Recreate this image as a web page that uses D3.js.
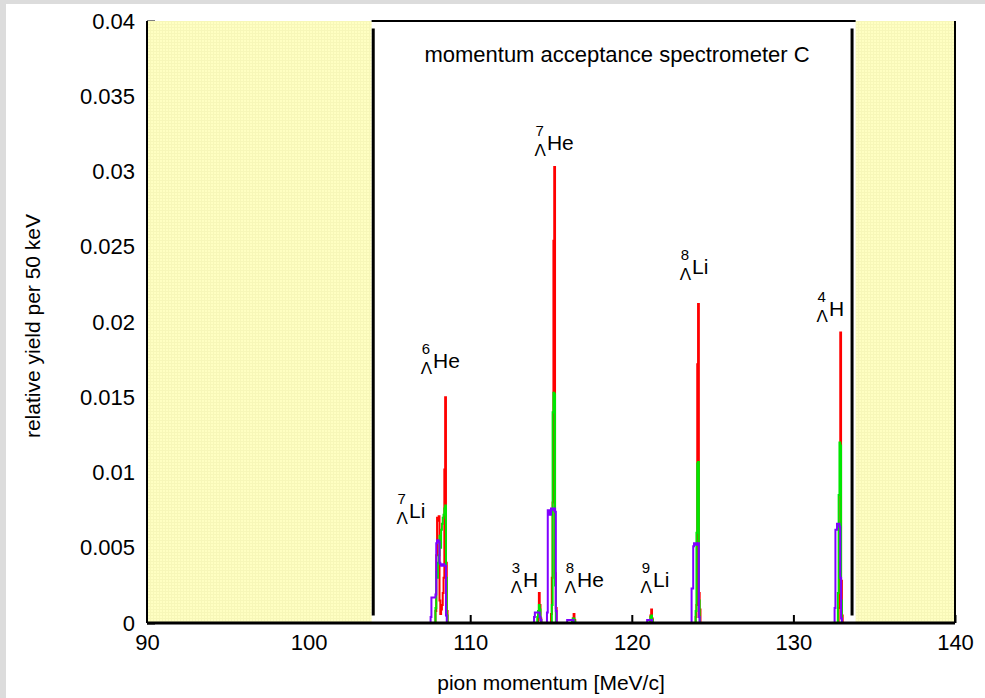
<!DOCTYPE html>
<html>
<head>
<meta charset="utf-8">
<script src="https://cdn.jsdelivr.net/npm/d3@7"></script>
<style>
  body { margin: 0; background: #dcdcdc; }
  svg { display: block; font-family: "Liberation Sans", Arial, sans-serif; }
</style>
</head>
<body>
<svg width="985" height="698"></svg>
<script>
// histogram bins: [bin start (MeV/c), relative yield per 50 keV]
var binWidth = 0.05;

var redBins = [
  [107.85,0.0008],[107.9,0.0045],[107.95,0.0070],[108.0,0.0068],[108.05,0.0071],[108.1,0.0015],
  [108.15,0.0006],[108.2,0.0009],[108.25,0.0012],[108.3,0.0020],[108.35,0.0030],[108.4,0.0102],
  [108.45,0.0150],[108.5,0.0040],[108.55,0.0008],
  [114.2,0.0008],[114.25,0.0020],[114.3,0.0012],[114.35,0.0003],
  [115.0,0.0006],[115.05,0.0030],[115.1,0.0080],[115.15,0.0254],[115.2,0.0303],[115.25,0.0033],[115.3,0.0010],
  [116.35,0.0003],[116.4,0.0006],[116.45,0.0002],
  [121.15,0.0005],[121.2,0.0009],[121.25,0.0003],
  [123.95,0.0004],[124.0,0.0012],[124.05,0.0172],[124.1,0.0212],[124.15,0.0020],[124.2,0.0009],
  [132.8,0.0010],[132.85,0.0040],[132.9,0.0193],[132.95,0.0028],[133.0,0.0005]
];

var greenBins = [
  [107.85,0.0010],[107.9,0.0034],[107.95,0.0030],[108.0,0.0040],[108.05,0.0045],[108.1,0.0058],
  [108.15,0.0050],[108.2,0.0062],[108.25,0.0066],[108.3,0.0070],[108.35,0.0072],[108.4,0.0076],
  [108.45,0.0078],[108.5,0.0030],[108.55,0.0005],
  [114.15,0.0004],[114.2,0.0008],[114.25,0.0012],[114.3,0.0009],[114.35,0.0002],
  [115.05,0.0012],[115.1,0.0140],[115.15,0.0153],[115.2,0.0152],[115.25,0.0025],
  [116.3,0.0002],[116.35,0.0003],[116.4,0.0003],[116.45,0.0001],
  [121.1,0.0002],[121.15,0.0004],[121.2,0.0005],[121.25,0.0002],
  [123.95,0.0008],[124.0,0.0060],[124.05,0.0106],[124.1,0.0107],[124.15,0.0015],
  [132.75,0.0020],[132.8,0.0085],[132.85,0.0120],[132.9,0.0118],[132.95,0.0015]
];

var purpleBins = [
  [107.55,0.0004],[107.6,0.0017],[107.65,0.0017],[107.7,0.0017],[107.75,0.0017],[107.8,0.0017],
  [107.85,0.0019],[107.9,0.0053],[107.95,0.0055],[108.0,0.0055],[108.05,0.0054],[108.1,0.0040],
  [108.15,0.0039],[108.2,0.0038],[108.25,0.0039],[108.3,0.0038],[108.35,0.0039],[108.4,0.0038],
  [108.45,0.0038],[108.5,0.0005],
  [113.95,0.0004],[114.0,0.0007],[114.05,0.0007],[114.1,0.0007],[114.15,0.0007],[114.2,0.0007],
  [114.25,0.0007],[114.3,0.0004],[114.35,0.0002],
  [114.75,0.0007],[114.8,0.0075],[114.85,0.0075],[114.9,0.0072],[114.95,0.0072],[115.0,0.0076],
  [115.05,0.0076],[115.1,0.0076],[115.15,0.0075],[115.2,0.0076],[115.25,0.0074],[115.3,0.0008],
  [116.0,0.0002],[116.05,0.0002],[116.1,0.0002],[116.15,0.0002],[116.2,0.0002],[116.25,0.0002],
  [116.3,0.0002],[116.35,0.0002],
  [120.95,0.0002],[121.0,0.0002],[121.05,0.0002],[121.1,0.0002],[121.15,0.0002],[121.2,0.0002],
  [123.7,0.0023],[123.75,0.0023],[123.8,0.0051],[123.85,0.0053],[123.9,0.0052],[123.95,0.0053],
  [124.0,0.0053],[124.05,0.0052],[124.1,0.0053],[124.15,0.0004],
  [132.55,0.0010],[132.6,0.0062],[132.65,0.0062],[132.7,0.0066],[132.75,0.0066],[132.8,0.0066],
  [132.85,0.0064],[132.9,0.0030],[132.95,0.0003]
];

var seriesColors = ["#ff0000", "#00e600", "#8000ff"];

// hypernucleus labels: mass number, element, element text start (MeV/c), baseline (yield)
var labelMass = ["7", "6", "3", "7", "8", "9", "8", "4"];
var labelElem = ["Li", "He", "H", "He", "He", "Li", "Li", "H"];
var labelP    = [106.21, 107.70, 113.27, 114.75, 116.61, 121.31, 123.73, 132.20];
var labelY    = [0.00698, 0.01694, 0.00239, 0.03143, 0.00239, 0.00239, 0.02319, 0.0204];

var xTicks = [90, 100, 110, 120, 130, 140];
var yTicks = [0, 0.005, 0.01, 0.015, 0.02, 0.025, 0.03, 0.035, 0.04];

// spectrometer acceptance edges and the shaded (outside) regions
var acceptance = [104.0, 133.63];
var outside = [[90, 103.9], [133.85, 140]];

var svg = d3.select("svg"),
    width = +svg.attr("width"),
    height = +svg.attr("height");

var x = d3.scaleLinear().domain([90, 140]).range([147, 955]);
var y = d3.scaleLinear().domain([0, 0.04]).range([623, 21]);

svg.append("rect").attr("x", 6).attr("y", 4).attr("width", width - 6).attr("height", height - 4).attr("fill", "#fff");

// fine grid pattern for the yellow regions
var defs = svg.append("defs");
var pat = defs.append("pattern").attr("id", "yel").attr("width", 3).attr("height", 3)
  .attr("patternUnits", "userSpaceOnUse");
pat.append("rect").attr("width", 3).attr("height", 3).attr("fill", "#ffffc2");
pat.append("path").attr("d", "M0,0.5H3M0.5,0V3").attr("stroke", "#f7f7b8").attr("stroke-width", 1);

// histogram outlines
function stepPoints(bins) {
  var groups = [], cur = [];
  bins.forEach(function(b) {
    if (cur.length && Math.abs(b[0] - cur[cur.length - 1][0] - binWidth) > 1e-6) {
      groups.push(cur); cur = [];
    }
    cur.push(b);
  });
  if (cur.length) groups.push(cur);
  return groups.map(function(g) {
    var pts = [[g[0][0], 0]];
    g.forEach(function(b) {
      pts.push([b[0], b[1]]);
      pts.push([b[0] + binWidth, b[1]]);
    });
    pts.push([g[g.length - 1][0] + binWidth, 0]);
    return pts;
  });
}

var line = d3.line().x(function(d) { return x(d[0]); }).y(function(d) { return y(d[1]); });

var gHist = svg.append("g");
[redBins, greenBins, purpleBins].forEach(function(bins, i) {
  gHist.selectAll(null)
    .data(stepPoints(bins))
    .enter().append("path")
    .attr("d", line)
    .attr("fill", "none")
    .attr("stroke", seriesColors[i])
    .attr("stroke-width", 2)
    .attr("stroke-linejoin", "miter");
});

// axes with inward ticks
var xAxis = svg.append("g").attr("transform", "translate(0," + y(0) + ")")
  .call(d3.axisBottom(x).tickValues(xTicks).tickSizeInner(-8).tickSizeOuter(0).tickPadding(11));
var yAxis = svg.append("g").attr("transform", "translate(" + x(90) + ",0)")
  .call(d3.axisLeft(y).tickValues(yTicks).tickSizeInner(-8).tickSizeOuter(0).tickPadding(12)
    .tickFormat(d3.format("~g")));
[xAxis, yAxis].forEach(function(a) {
  a.select(".domain").remove();
  a.selectAll(".tick line").attr("stroke", "#000").attr("stroke-width", 2);
  a.selectAll(".tick text").attr("font-size", 22).attr("fill", "#000")
    .attr("font-family", "'Liberation Sans', Arial, sans-serif");
});

// yellow regions outside acceptance
svg.selectAll(".outside")
  .data(outside).enter().append("rect")
  .attr("x", function(d) { return x(d[0]); })
  .attr("y", y(0.04))
  .attr("width", function(d) { return x(d[1]) - x(d[0]); })
  .attr("height", y(0) - y(0.04) - 1)
  .attr("fill", "url(#yel)");

// frame
svg.append("line").attr("x1", x(90)).attr("x2", x(140)).attr("y1", y(0)).attr("y2", y(0))
  .attr("stroke", "#000").attr("stroke-width", 3);
svg.append("line").attr("x1", x(90)).attr("x2", x(90)).attr("y1", y(0.04)).attr("y2", y(0))
  .attr("stroke", "#000").attr("stroke-width", 2);
svg.append("line").attr("x1", x(140)).attr("x2", x(140)).attr("y1", y(0.04)).attr("y2", y(0))
  .attr("stroke", "#000").attr("stroke-width", 2);
svg.append("line").attr("x1", x(outside[0][1])).attr("x2", x(outside[1][0])).attr("y1", y(0.04)).attr("y2", y(0.04))
  .attr("stroke", "#000").attr("stroke-width", 2);

// acceptance limits
svg.selectAll(".acc")
  .data(acceptance).enter().append("line")
  .attr("x1", function(d) { return x(d); })
  .attr("x2", function(d) { return x(d); })
  .attr("y1", y(0.0395))
  .attr("y2", y(0.0005))
  .attr("stroke", "#000").attr("stroke-width", 3);

svg.append("text").attr("x", 617).attr("y", 62)
  .attr("text-anchor", "middle").attr("font-size", 22)
  .text("momentum acceptance spectrometer C");

// axis titles
svg.append("text").attr("x", (x(90) + x(140)) / 2).attr("y", 690)
  .attr("text-anchor", "middle").attr("font-size", 21)
  .text("pion momentum [MeV/c]");
svg.append("text").attr("transform", "translate(40," + (y(0.02) + 4) + ") rotate(-90)")
  .attr("text-anchor", "middle").attr("font-size", 21)
  .text("relative yield per 50 keV");

// hypernucleus labels
var gLab = svg.append("g");
labelElem.forEach(function(el, i) {
  var lx = x(labelP[i]), ly = y(labelY[i]);
  var g = gLab.append("g");
  g.append("text").attr("x", lx).attr("y", ly).attr("font-size", 21).text(el);
  g.append("text").attr("x", lx - 3).attr("y", ly - 14).attr("text-anchor", "end")
    .attr("font-size", 15).text(labelMass[i]);
  g.append("text").attr("x", lx - 1).attr("y", ly + 6).attr("text-anchor", "end")
    .attr("font-size", 17).text("Λ");
});
</script>
</body>
</html>
